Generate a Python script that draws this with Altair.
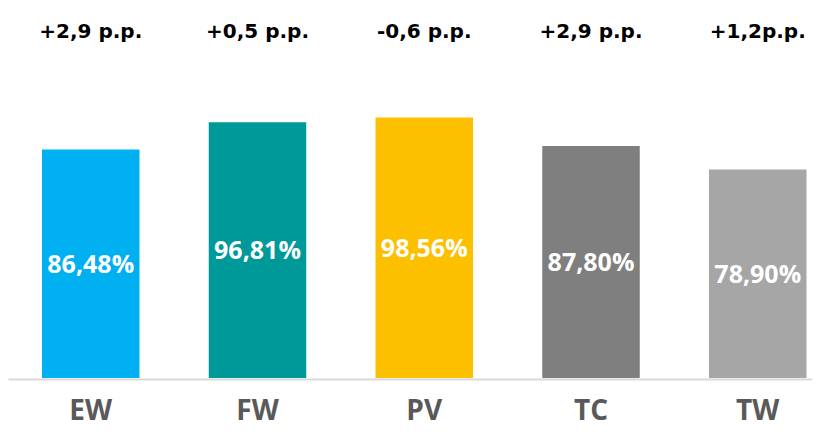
import altair as alt
import pandas as pd

categories = ["EW", "FW", "PV", "TC", "TW"]
values = [86.48, 96.81, 98.56, 87.80, 78.90]
value_labels = ["86,48%", "96,81%", "98,56%", "87,80%", "78,90%"]
changes = ["+2,9 p.p.", "+0,5 p.p.", "-0,6 p.p.", "+2,9 p.p.", "+1,2p.p."]
colors = ["#00B0F0", "#009999", "#FCC000", "#7F7F7F", "#A6A6A6"]

df = pd.DataFrame({
    "cat": categories,
    "value": values,
    "half": [v / 2 for v in values],
    "label": value_labels,
    "change": changes,
})

FONT = "Open Sans"

x = alt.X(
    "cat:N",
    sort=categories,
    scale=alt.Scale(paddingInner=0.4153, paddingOuter=0.1184, align=0.861),
    axis=alt.Axis(
        title=None,
        labelAngle=0,
        ticks=False,
        domainColor="#D9D9D9",
        domainWidth=2,
        offset=1,
        labelFont=FONT,
        labelFontSize=28,
        labelFontWeight="bold",
        labelColor="#595959",
        labelBaseline="alphabetic",
        labelPadding=40,
    ),
)

bars = alt.Chart(df).mark_bar().encode(
    x=x,
    y=alt.Y("value:Q", scale=alt.Scale(domain=[0, 139]), axis=None),
    color=alt.Color("cat:N", scale=alt.Scale(domain=categories, range=colors), legend=None),
)

inner = alt.Chart(df).mark_text(
    font=FONT, fontSize=25, fontWeight="bold", color="white", baseline="alphabetic", dy=9
).encode(
    x=x,
    y=alt.Y("half:Q"),
    text="label:N",
)

top = alt.Chart(df).mark_text(
    font="DejaVu Sans", fontSize=20, fontWeight="bold", color="#000000", baseline="alphabetic"
).encode(
    x=x,
    y=alt.value(30),
    text="change:N",
)

chart = (
    alt.layer(bars, inner, top)
    .properties(
        width=804,
        height=370,
        padding={"left": 0, "top": 0, "right": 0, "bottom": 48},
        autosize=alt.AutoSizeParams(type="none"),
    )
    .configure_view(stroke=None)
)

chart.save("out.html", embed_options={"renderer": "svg", "actions": False})
